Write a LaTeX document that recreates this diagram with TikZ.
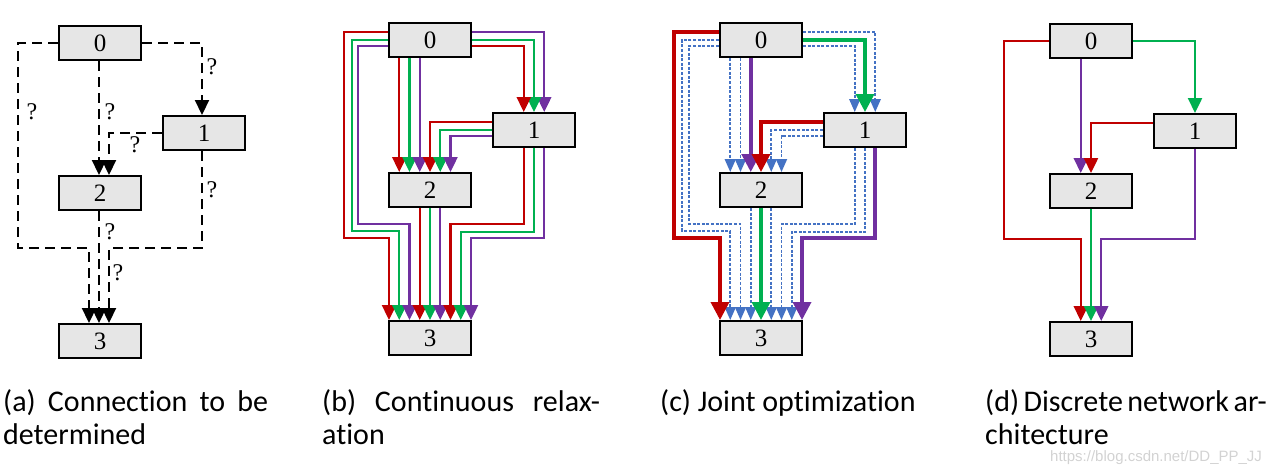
\documentclass[tikz,border=0pt]{standalone}
\usepackage{fontspec}
\setmainfont{Liberation Serif}
\newfontfamily\capfont[Ligatures=NoCommon]{Carlito}
\newfontfamily\markfont{Liberation Sans}
\usepackage{xcolor}
\definecolor{darkRed}{RGB}{192,0,0}
\definecolor{darkGreen}{RGB}{0,176,80}
\definecolor{darkPurple}{RGB}{112,48,160}
\definecolor{lightBlue}{RGB}{68,114,196}
\definecolor{boxGray}{RGB}{230,230,230}
\usetikzlibrary{arrows.meta}

\begin{document}
\begin{tikzpicture}[x=1pt,y=-1pt,
	box/.style={draw=black, line width=2pt, fill=boxGray, minimum width=82pt, minimum height=34pt, inner sep=0pt, font=\fontsize{25}{25}\selectfont},
	maybe/.style={black, line width=2.2pt, dash pattern=on 10pt off 6pt, -{Triangle[width=14pt,length=15pt]}},
	wire/.style={line width=2.4pt, -{Triangle[width=14pt,length=15pt]}},
	thickwire/.style={line width=3.6pt, -{Triangle[width=18pt,length=18pt]}},
	dotwire/.style={lightBlue, line width=1.7pt, dash pattern=on 3pt off 1.6pt, -{Triangle[width=11pt,length=13pt]}},
	qmark/.style={font=\fontsize{24}{24}\selectfont, inner sep=0pt},
	captext/.style={anchor=base west, align=left, inner sep=0pt, font=\capfont\fontsize{30}{33}\selectfont}]
			\useasboundingbox (0,0) rectangle (1281,471);

			% Cells 0..3 in every panel
			\foreach \p/\x/\y in {a/100/3, b/430/0, c/761/0, d/1091/1} {
				\node[box] (\p0) at (\x,40+\y) {0};
				\node[box] (\p1) at (\x+104,130+\y) {1};
				\node[box] (\p2) at (\x,190+\y) {2};
				\node[box] (\p3) at (\x,338+\y) {3};
			}

			% (a) links still unknown
			\draw[maybe] (a0.west) -- ++(-40,0) -- ++(0,205) -| ([xshift=-11]a3.north);
			\draw[maybe] (a0.east) -| ([xshift=-2]a1.north);
			\draw[maybe] ([xshift=-1]a0.south) -- ([xshift=-1]a2.north);
			\draw[maybe] (a1.west) -| ([xshift=9]a2.north);
			\draw[maybe] ([xshift=-1]a2.south) -- ([xshift=-1]a3.north);
			\draw[maybe] ([xshift=-2]a1.south) -- ++(0,97) -| ([xshift=9]a3.north);
			\node[qmark] (q1) at (212,67) {?};
			\node[qmark] (q2) at (32,112) {?};
			\node[qmark] (q3) at (110,112) {?};
			\node[qmark] (q4) at (135,145) {?};
			\node[qmark] (q5) at (212,190) {?};
			\node[qmark] (q6) at (110,232) {?};
			\node[qmark] (q7) at (118,273) {?};

			% (b) every operation on every link
			\foreach \c/\dy/\dx/\dd/\k in {darkRed/8/44/206/-4, darkGreen/0/36/191/-3, darkPurple/-6/30/178/-2}
			\draw[wire,\c] ([yshift=\dy]b0.west) -- ++(-\dx,0) -- ++(0,\dd) -| ([xshift=\k*10.25]b3.north);
			\foreach \c/\dy/\k in {darkPurple/8/1, darkGreen/0/0, darkRed/-6/-1}
			\draw[wire,\c] ([yshift=\dy]b0.east) -| ([xshift=\k*10.25]b1.north);
			\foreach \c/\k in {darkRed/-3, darkGreen/-2, darkPurple/-1}
			\draw[wire,\c] ([xshift=\k*10.25]b0.south) -- ([xshift=\k*10.25]b2.north);
			\foreach \c/\dy/\k in {darkRed/8/0, darkGreen/0/1, darkPurple/-6/2}
			\draw[wire,\c] ([yshift=\dy]b1.west) -| ([xshift=\k*10.25]b2.north);
			\foreach \c/\k in {darkRed/-1, darkGreen/0, darkPurple/1}
			\draw[wire,\c] ([xshift=\k*10.25]b2.south) -- ([xshift=\k*10.25]b3.north);
			\foreach \c/\k/\dd in {darkRed/-1/76, darkGreen/0/84, darkPurple/1/90}
			\draw[wire,\c] ([xshift=\k*10.25]b1.south) -- ++(0,\dd) -| ([xshift=\k*10.25+30.75]b3.north);

			% (c) weights still open (dotted)
			\foreach \dy/\dx/\dd/\k in {0/37/191/-3, -6/30/178/-2}
			\draw[dotwire] ([yshift=\dy]c0.west) -- ++(-\dx,0) -- ++(0,\dd) -| ([xshift=\k*10.25]c3.north);
			\foreach \k in {-3,-2}
			\draw[dotwire] ([xshift=\k*10.25]c0.south) -- ([xshift=\k*10.25]c2.north);
			\foreach \dy/\k in {8/1, -6/-1}
			\draw[dotwire] ([yshift=\dy]c0.east) -| ([xshift=\k*10.25]c1.north);
			\foreach \dy/\k in {0/1, -6/2}
			\draw[dotwire] ([yshift=\dy]c1.west) -| ([xshift=\k*10.25]c2.north);
			\foreach \k in {-1,1}
			\draw[dotwire] ([xshift=\k*10.25]c2.south) -- ([xshift=\k*10.25]c3.north);
			\foreach \k/\dd in {-1/76, 0/84}
			\draw[dotwire] ([xshift=\k*10.25]c1.south) -- ++(0,\dd) -| ([xshift=\k*10.25+30.75]c3.north);
			% (c) strongest operation on each link
			\draw[thickwire,darkRed] ([yshift=8]c0.west) -- ++(-45,0) -- ++(0,206) -| ([xshift=-41]c3.north);
			\draw[thickwire,darkPurple] ([xshift=-10.25]c0.south) -- ([xshift=-10.25]c2.north);
			\draw[thickwire,darkGreen] (c0.east) -| (c1.north);
			\draw[thickwire,darkRed] ([yshift=8]c1.west) -| (c2.north);
			\draw[thickwire,darkGreen] (c2.south) -- (c3.north);
			\draw[thickwire,darkPurple] ([xshift=10.25]c1.south) -- ++(0,90) -| ([xshift=41]c3.north);

			% (d) the cell that is kept
			\draw[wire,darkRed] (d0.west) -- ++(-45,0) -- ++(0,198) -| ([xshift=-10.25]d3.north);
			\draw[wire,darkGreen] (d0.east) -| (d1.north);
			\draw[wire,darkPurple] ([xshift=-10.25]d0.south) -- ([xshift=-10.25]d2.north);
			\draw[wire,darkRed] ([yshift=8]d1.west) -| (d2.north);
			\draw[wire,darkGreen] (d2.south) -- (d3.north);
			\draw[wire,darkPurple] (d1.south) -- ++(0,90) -| ([xshift=10.25]d3.north);

			% Captions (base = last line)
			\node[captext] (capA) at (3,444) {\makebox[265pt][s]{(a) Connection to be}\\determined};
			\node[captext] (capB) at (322,444) {\makebox[278pt][s]{(b) Continuous relax-}\\ation};
			\node[captext] (capC) at (660,411) {(c) Joint optimization};
			\node[captext] (capD) at (985,444) {\makebox[280pt][s]{(d) Discrete network ar-}\\chitecture};
			\node[anchor=base west, inner sep=0pt, text=gray!35, font=\markfont\fontsize{15}{15}\selectfont] (mark) at (1050,461) {https://blog.csdn.net/DD\_PP\_JJ};
		\end{tikzpicture}
\end{document}
